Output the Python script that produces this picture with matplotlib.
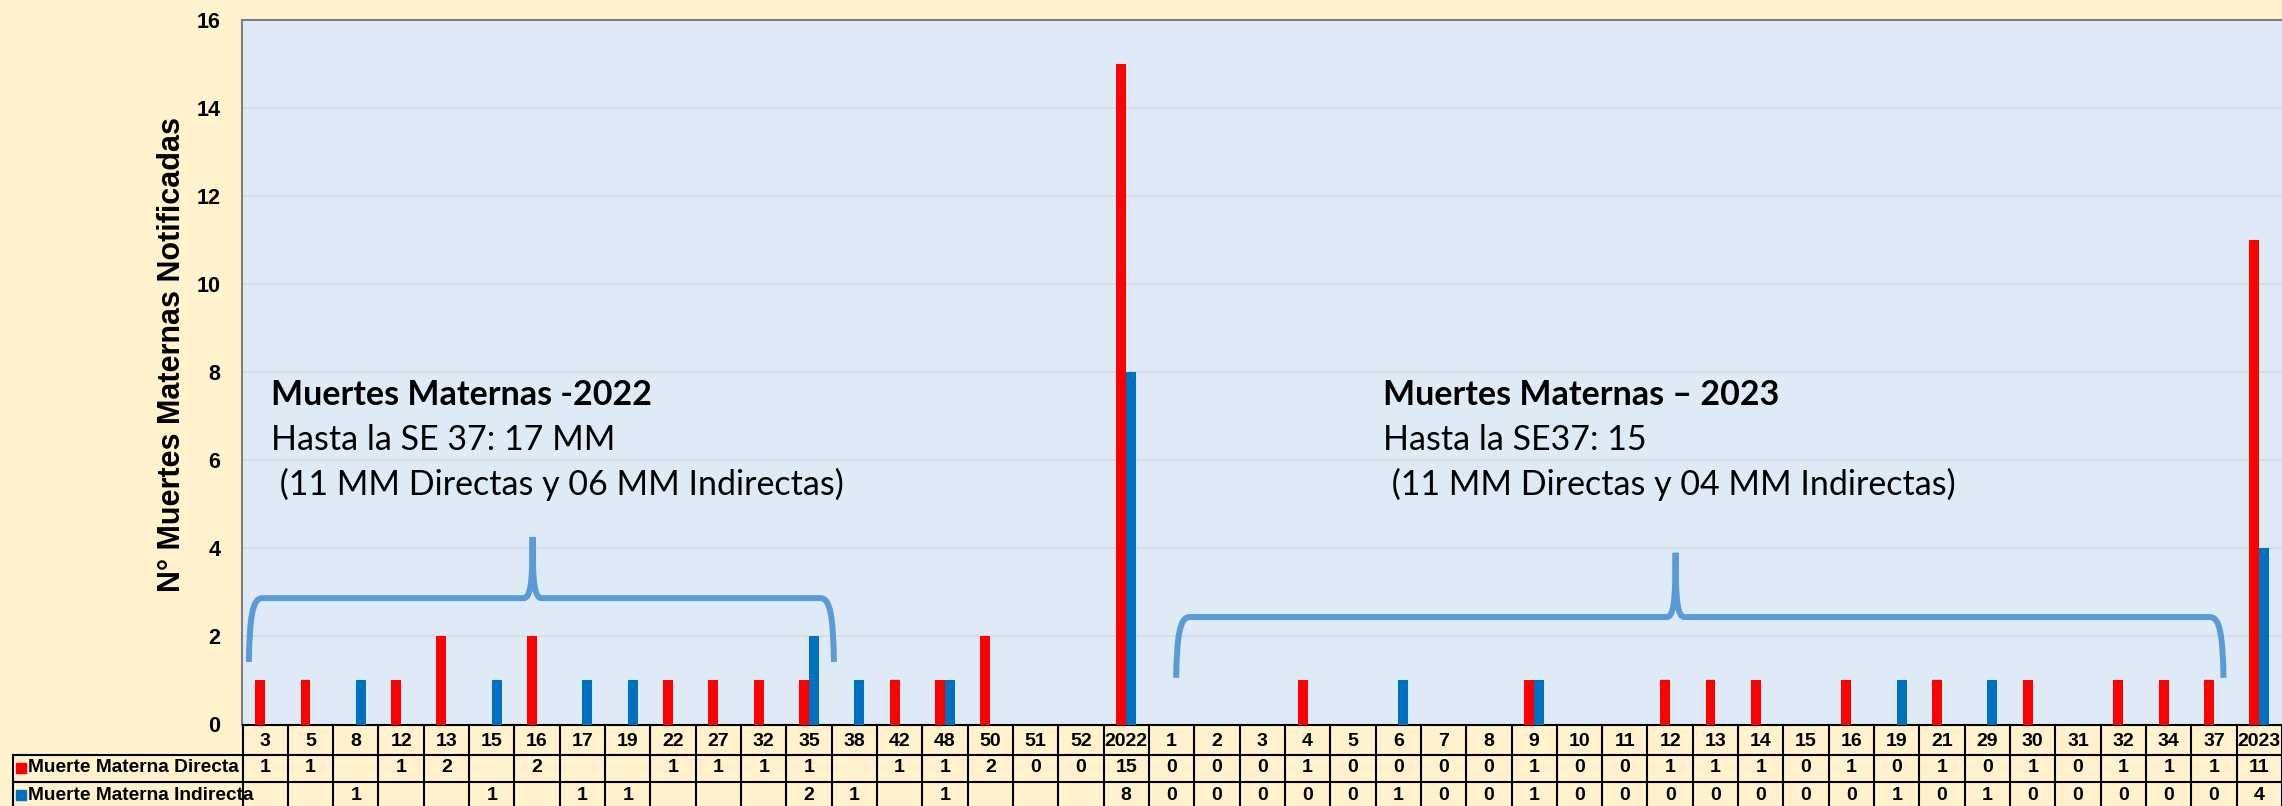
import numpy as np
import matplotlib.pyplot as plt
from matplotlib.path import Path
from matplotlib.patches import PathPatch
from matplotlib.transforms import blended_transform_factory

# semanas epidemiologicas y totales anuales
semanas = ['3', '5', '8', '12', '13', '15', '16', '17', '19', '22', '27', '32', '35', '38',
           '42', '48', '50', '51', '52', '2022',
           '1', '2', '3', '4', '5', '6', '7', '8', '9', '10', '11', '12', '13', '14', '15',
           '16', '19', '21', '29', '30', '31', '32', '34', '37', '2023']
directa = [1, 1, None, 1, 2, None, 2, None, None, 1, 1, 1, 1, None, 1, 1, 2, 0, 0, 15,
           0, 0, 0, 1, 0, 0, 0, 0, 1, 0, 0, 1, 1, 1, 0, 1, 0, 1, 0, 1, 0, 1, 1, 1, 11]
indirecta = [None, None, 1, None, None, 1, None, 1, 1, None, None, None, 2, 1, None, 1, None, None, None, 8,
             0, 0, 0, 0, 0, 1, 0, 0, 1, 0, 0, 0, 0, 0, 0, 0, 1, 0, 1, 0, 0, 0, 0, 0, 4]
series = ['Muerte Materna Directa', 'Muerte Materna Indirecta']
colores = ['#FF0000', '#0070C0']

W, H = 2282, 806
fig = plt.figure(figsize=(W / 100, H / 100), dpi=100, facecolor='#FFF2CC')
L, B, T = 242.5, 724.5, 20.0
ax = fig.add_axes([L / W, (H - B) / H, (W - L) / W, (B - T) / H])
ax.set_facecolor('#DEEBF7')

x = np.arange(len(semanas))
w = 0.22
d = np.array([v if v is not None else 0 for v in directa], dtype=float)
ind = np.array([v if v is not None else 0 for v in indirecta], dtype=float)
ax.bar(x - w / 2, d, w, color=colores[0], zorder=3)
ax.bar(x + w / 2, ind, w, color=colores[1], zorder=3)

ax.set_xlim(-0.5, len(semanas) - 0.5)
ax.set_ylim(0, 16)
ax.set_yticks(range(0, 17, 2))
ax.set_xticks([])
ax.grid(axis='y', color='#D5D9DE', lw=1.2, zorder=0)
ax.tick_params(axis='y', length=0, pad=16)
for lab in ax.get_yticklabels():
    lab.set_fontfamily('Liberation Sans')
    lab.set_fontweight('bold')
    lab.set_fontsize(15.5)
for s in ['left', 'top']:
    ax.spines[s].set_color('#7F7F7F')
    ax.spines[s].set_linewidth(1.5)
ax.spines['right'].set_visible(False)
ax.spines['bottom'].set_color('black')
ax.spines['bottom'].set_linewidth(1.5)

fig.text(172 / W, 1 - 355 / H, 'N° Muertes Maternas Notificadas', rotation=90,
         ha='center', va='center', fontsize=22, fontweight='bold', family='Liberation Sans')


# llaves que agrupan cada año
def llave(x0, x1, xm, y_end, y_bar, y_tip):
    verts = [(x0, y_end),
             (x0 + 0.02, y_bar - 0.45), (x0 + 0.07, y_bar), (x0 + 0.3, y_bar),
             (xm - 0.2, y_bar),
             (xm - 0.05, y_bar), (xm, y_bar + 0.3), (xm, y_tip),
             (xm, y_bar + 0.3), (xm + 0.05, y_bar), (xm + 0.2, y_bar),
             (x1 - 0.3, y_bar),
             (x1 - 0.07, y_bar), (x1 - 0.02, y_bar - 0.45), (x1, y_end)]
    codes = [Path.MOVETO] + [Path.CURVE4] * 3 + [Path.LINETO] + [Path.CURVE4] * 6 + \
            [Path.LINETO] + [Path.CURVE4] * 3
    ax.add_patch(PathPatch(Path(verts, codes), fill=False, edgecolor='#5B9BD5',
                           lw=4.3, capstyle='butt', zorder=4))


llave(-0.36, 12.55, 5.9, 1.42, 2.87, 4.26)
llave(20.1, 43.21, 31.12, 1.06, 2.44, 3.9)

# textos de resumen
bloques = [(271, 'Muertes Maternas -2022', 'Hasta la SE 37: 17 MM', ' (11 MM Directas y 06 MM Indirectas)'),
           (1383, 'Muertes Maternas – 2023', 'Hasta la SE37: 15', ' (11 MM Directas y 04 MM Indirectas)')]
for px, t1, t2, t3 in bloques:
    fig.text(px / W, 1 - 405 / H, t1, fontsize=24.5, fontweight='bold', family='Lato', va='baseline')
    fig.text(px / W, 1 - 450 / H, t2, fontsize=24.5, family='Lato', va='baseline')
    fig.text(px / W, 1 - 495 / H, t3, fontsize=24.5, family='Lato', va='baseline')

# tabla de datos bajo el eje
tr = blended_transform_factory(ax.transData, ax.transAxes)


def ay(py):
    return (B - py) / (B - T)


def axx(px):
    return (px - L) / (W - L)


lkw = dict(color='black', lw=1.5, clip_on=False, zorder=5)
for k in range(len(semanas) + 1):
    ax.plot([k - 0.5, k - 0.5], [ay(B), ay(812)], transform=tr, **lkw)
for py in (755, 782):
    ax.plot([axx(13), 1.0], [ay(py), ay(py)], transform=ax.transAxes, **lkw)
ax.plot([axx(13), axx(13)], [ay(755), ay(812)], transform=ax.transAxes, **lkw)

tkw = dict(ha='center', va='center', fontsize=14, fontweight='bold',
           family='Liberation Sans', transform=tr, clip_on=False)
for i, s in enumerate(semanas):
    ax.text(i, ay(741), s, **tkw)
    if directa[i] is not None:
        ax.text(i, ay(768), str(directa[i]), **tkw)
    if indirecta[i] is not None:
        ax.text(i, ay(795), str(indirecta[i]), **tkw)

for py, nombre, c in zip((768, 795), series, colores):
    ax.plot([axx(21)], [ay(py)], marker='s', ms=7, color=c, transform=ax.transAxes, clip_on=False)
    ax.text(axx(28), ay(py), nombre, ha='left', va='center', fontsize=13.8, fontweight='bold',
            family='Liberation Sans', transform=ax.transAxes, clip_on=False)

fig.savefig('out.png', dpi=100, facecolor=fig.get_facecolor())
